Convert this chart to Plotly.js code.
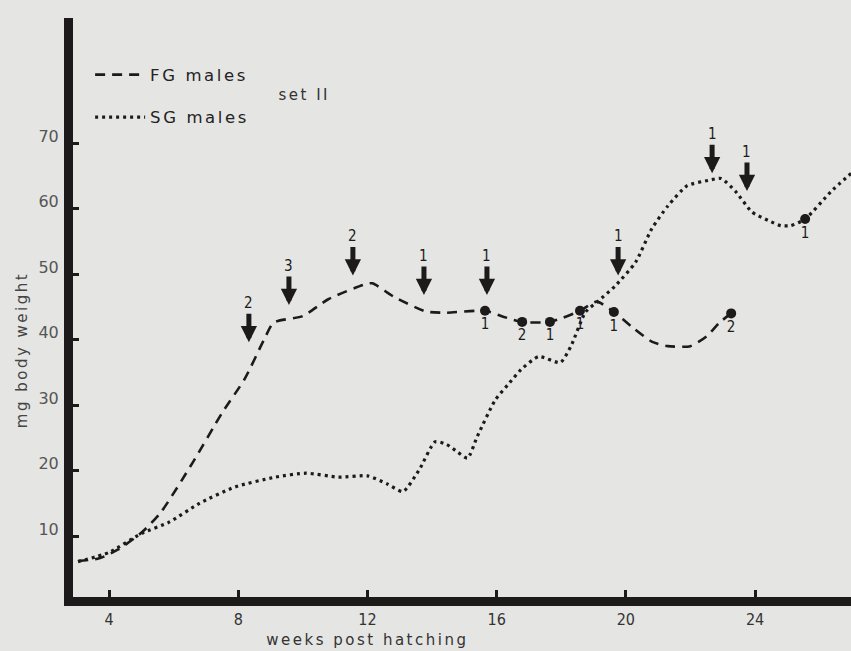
<!DOCTYPE html>
<html>
<head>
<meta charset="utf-8">
<script src="https://cdn.plot.ly/plotly-3.0.1.min.js"></script>
<style>
html,body{margin:0;padding:0;background:#e5e5e3;}
#chart{width:851px;height:651px;}
.legendtext{letter-spacing:2.6px;}
g.annotation[data-index="0"] text, g.annotation[data-index="1"] text, g.annotation[data-index="2"] text{letter-spacing:2.5px;}
</style>
</head>
<body>
<div id="chart"></div>
<script>
// ---- data ----
const fgWeeks  = [3.04, 3.7, 4.3, 5.0, 5.6, 6.6, 7.5, 8.2, 8.8, 9.1, 10.0, 10.8, 11.9, 12.15, 12.8, 13.8, 14.4, 15.64, 16.2, 16.79, 17.65, 18.58, 19.1, 19.63, 20.2, 20.8, 21.3, 22.0, 22.5, 22.9, 23.26];
const fgValues = [6.2, 6.6, 8.0, 10.5, 13.6, 21.3, 28.8, 34.0, 40.0, 42.6, 43.6, 46.2, 48.4, 48.6, 46.6, 44.3, 44.1, 44.4, 43.5, 42.7, 42.7, 44.4, 45.8, 44.2, 41.9, 39.7, 39.0, 39.0, 40.5, 42.6, 44.0];

const sgWeeks  = [3.04, 4.0, 5.0, 5.85, 6.8, 7.9, 9.15, 10.1, 11.1, 12.0, 12.6, 13.1, 13.6, 14.1, 14.45, 14.8, 15.1, 15.4, 15.96, 16.4, 16.75, 17.3, 17.97, 18.3, 18.75, 19.15, 19.67, 20.3, 20.8, 21.3, 21.9, 22.55, 22.95, 23.4, 23.9, 24.4, 24.8, 25.1, 25.55, 26.35, 27.0];
const sgValues = [6.1, 7.5, 10.4, 12.1, 15.0, 17.5, 19.0, 19.6, 19.0, 19.2, 18.0, 16.8, 20.1, 24.4, 24.0, 22.8, 21.9, 25.2, 30.8, 33.4, 35.4, 37.4, 36.5, 39.0, 44.2, 45.9, 48.2, 51.8, 56.9, 60.4, 63.5, 64.3, 64.6, 62.6, 59.5, 58.2, 57.4, 57.4, 58.4, 62.6, 65.5];

// filled points with their counts
const dotWeeks  = [15.64, 16.79, 17.65, 18.58, 19.63, 23.26, 25.55];
const dotValues = [44.4, 42.7, 42.7, 44.4, 44.2, 44.0, 58.4];
const dotLabels = ["1", "2", "1", "1", "1", "2", "1"];

// arrows (tip position) with their counts
const arrowWeeks  = [8.33, 9.57, 11.55, 13.75, 15.7, 19.76, 22.67, 23.75];
const arrowValues = [39.6, 45.3, 49.8, 46.8, 46.8, 49.8, 65.4, 62.7];
const arrowLabels = ["2", "3", "2", "1", "1", "1", "1", "1"];

const xTicks = [4, 8, 12, 16, 20, 24];
const yTicks = [10, 20, 30, 40, 50, 60, 70];

const ink = '#1c1a1a';

const traces = [
  {x: fgWeeks, y: fgValues, mode: 'lines', name: 'FG males', legendgroup: 'fg',
   line: {color: ink, width: 2.6, dash: '10px,7px', shape: 'spline', smoothing: 0.6}},
  {x: sgWeeks, y: sgValues, mode: 'lines', name: 'SG males', legendgroup: 'sg',
   line: {color: ink, width: 3.2, dash: '3px,4px', shape: 'spline', smoothing: 0.6}},
  {x: dotWeeks, y: dotValues, mode: 'markers+text', text: dotLabels, textposition: 'bottom center',
   showlegend: false, marker: {color: ink, size: 10},
   textfont: {family: 'DejaVu Sans Condensed', size: 15, color: ink}}
];

const annotations = [
  {text: 'weeks post hatching', xref: 'x', yref: 'paper', x: 12, y: -0.074, yanchor: 'middle', showarrow: false,
   font: {family: 'DejaVu Sans', size: 15, color: '#333'}},
  {text: 'mg body weight', xref: 'paper', yref: 'y', x: -0.066, y: 38.4, xanchor: 'center', yanchor: 'middle',
   showarrow: false, textangle: -90,
   font: {family: 'DejaVu Sans', size: 15, color: '#444'}},
  {text: 'set II', xref: 'x', yref: 'y', x: 10.04, y: 77.3, showarrow: false,
   font: {family: 'DejaVu Sans', size: 15, color: '#333'}}
];
arrowWeeks.forEach((w, i) => {
  annotations.push({x: w, y: arrowValues[i], xref: 'x', yref: 'y', text: arrowLabels[i],
    showarrow: true, ax: 0, ay: -39, arrowhead: 2, arrowsize: 0.65, arrowwidth: 5, arrowcolor: ink,
    font: {family: 'DejaVu Sans Condensed', size: 15, color: ink}});
});

const layout = {
  width: 851, height: 651,
  margin: {l: 73, r: 0, t: 18, b: 54},
  paper_bgcolor: '#e5e5e3', plot_bgcolor: '#e5e5e3',
  showlegend: true,
  legend: {x: 0.022, y: 0.932, xanchor: 'left', yanchor: 'top', bgcolor: 'rgba(0,0,0,0)',
    tracegroupgap: 18, itemwidth: 50,
    font: {family: 'DejaVu Sans', size: 16.5, color: '#222'}},
  xaxis: {range: [2.885, 26.97], showgrid: false, zeroline: false, showline: true,
    linewidth: 9, linecolor: ink, ticks: 'inside', ticklen: 7, tickwidth: 3, tickcolor: ink,
    tickvals: xTicks, ticktext: xTicks.map(String),
    tickfont: {family: 'DejaVu Sans Condensed', size: 16, color: '#333'}},
  yaxis: {range: [0.7, 89.1], showgrid: false, zeroline: false, showline: true,
    linewidth: 9, linecolor: ink, ticks: 'inside', ticklen: 6, tickwidth: 3, tickcolor: ink,
    tickvals: yTicks, ticktext: yTicks.map(String), ticklabelshift: -7, ticklabelstandoff: 2,
    tickfont: {family: 'DejaVu Sans', size: 16, color: '#555'}},
  annotations: annotations
};

Plotly.newPlot('chart', traces, layout, {displayModeBar: false, staticPlot: true});
</script>
</body>
</html>
